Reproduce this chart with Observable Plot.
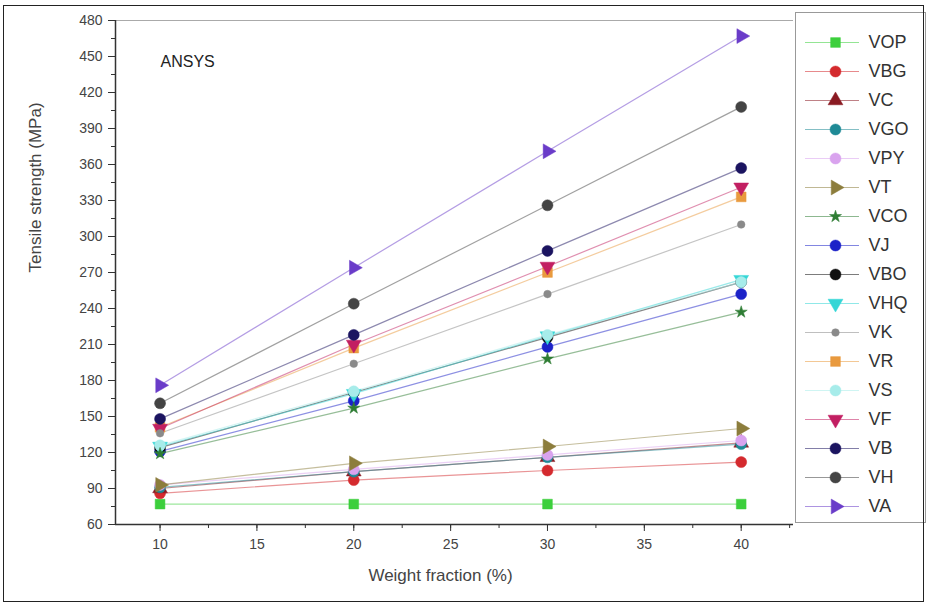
<!DOCTYPE html>
<html>
<head>
<meta charset="utf-8">
<script src="https://cdn.jsdelivr.net/npm/d3@7"></script>
<script src="https://cdn.jsdelivr.net/npm/@observablehq/plot@0.6"></script>
<style>
  html, body { margin: 0; padding: 0; background: #fff; }
  #wrap { position: relative; width: 929px; height: 606px; overflow: hidden; }
  #border { position: absolute; left: 3px; top: 5px; width: 921px; height: 597px; border: 1.5px solid #222; box-sizing: border-box; }
  #chart { position: absolute; left: 0; top: 0; }
  #legend { position: absolute; left: 795px; top: 12px; width: 131px; height: 511px; border: 1px solid #999; box-sizing: border-box; background: #fff; }
</style>
</head>
<body>
<div id="wrap">
  <div id="chart"></div>
  <div id="legend"></div>
  <div id="border"></div>
</div>
<script>
// ---- data ----
const weights = [10, 20, 30, 40];
const seriesNames = ["VOP","VBG","VC","VGO","VPY","VT","VCO","VJ","VBO","VHQ","VK","VR","VS","VF","VB","VH","VA"];
const VOP = [77, 77, 77, 77];
const VBG = [86, 97, 105, 112];
const VC  = [90, 104, 116, 128];
const VGO = [91, 104, 116, 127];
const VPY = [93, 106, 118, 130];
const VT  = [93, 111, 125, 140];
const VCO = [119, 157, 198, 237];
const VJ  = [121, 163, 208, 252];
const VBO = [124, 170, 216, 262];
const VHQ = [125, 169, 217, 264];
const VK  = [136, 194, 252, 310];
const VR  = [141, 207, 270, 333];
const VS  = [126, 171, 218, 262];
const VF  = [140, 210, 275, 341];
const VB  = [148, 218, 288, 357];
const VH  = [161, 244, 326, 408];
const VA  = [176, 274, 371, 467];
const seriesValues = {VOP, VBG, VC, VGO, VPY, VT, VCO, VJ, VBO, VHQ, VK, VR, VS, VF, VB, VH, VA};
const yTicks = [60, 90, 120, 150, 180, 210, 240, 270, 300, 330, 360, 390, 420, 450, 480];
const xTicks = [10, 15, 20, 25, 30, 35, 40];

// ---- styles ----
const colors = ["#3ccf3c","#d42a2e","#8a1a22","#1f8a96","#d9a3ee","#8c7d3c","#2f7d34","#1c22c8","#111111","#35d6d6","#8a8a8a","#e99a3e","#a7ecea","#c21f62","#1b1460","#444444","#6a3cc9"];
const s3 = Math.sqrt(3);
const triDown = { draw(ctx, size) { const y = -Math.sqrt(size / (s3 * 3)); ctx.moveTo(0, -2 * y); ctx.lineTo(-s3 * y, y); ctx.lineTo(s3 * y, y); ctx.closePath(); } };
const triRight = { draw(ctx, size) { const y = -Math.sqrt(size / (s3 * 3)); ctx.moveTo(-2 * y, 0); ctx.lineTo(y, -s3 * y); ctx.lineTo(y, s3 * y); ctx.closePath(); } };
const symbols = ["square","circle","triangle","circle","circle",triRight,"star","circle","circle",triDown,"circle","square","circle",triDown,"circle","circle",triRight];
const smallSet = new Set(["VCO","VK"]);

const rows = [];
for (const name of seriesNames) {
  seriesValues[name].forEach((v, i) => rows.push({series: name, w: weights[i], v}));
}

const xDomain = [7.7, 42.7];
const yMinor = d3.range(60, 481, 15);
const xMinor = d3.range(7.5, 42.6, 2.5).filter(d => d >= xDomain[0] && d <= xDomain[1]);

const chart = Plot.plot({
  width: 929, height: 606,
  marginLeft: 115, marginRight: 136, marginTop: 20, marginBottom: 82,
  style: {fontFamily: "'Liberation Sans', Arial, sans-serif", fontSize: "14px", color: "#444", background: "transparent"},
  x: {domain: xDomain},
  y: {domain: [60, 480]},
  color: {domain: seriesNames, range: colors},
  symbol: {domain: seriesNames, range: symbols},
  marks: [
    Plot.ruleY([480], {stroke: "#aaa", strokeWidth: 1}),
    Plot.axisX(xMinor, {tickSize: 4, tickFormat: () => "", label: null, stroke: "#333"}),
    Plot.axisX(xTicks, {tickSize: 7, tickPadding: 8, label: null, stroke: "#333", fontSize: 14}),
    Plot.axisY(yMinor, {tickSize: 4, tickFormat: () => "", label: null, stroke: "#333"}),
    Plot.axisY(yTicks, {tickSize: 7, tickPadding: 6, label: null, stroke: "#333", fontSize: 14}),
    Plot.ruleY([60], {stroke: "#333", strokeWidth: 1.5}),
    Plot.ruleX([xDomain[0]], {stroke: "#333", strokeWidth: 1.5}),
    Plot.line(rows, {x: "w", y: "v", z: "series", stroke: "series", strokeOpacity: 0.5, strokeWidth: 1.2}),
    Plot.dot(rows.filter(d => !smallSet.has(d.series)), {x: "w", y: "v", symbol: "series", fill: "series", stroke: "series", strokeWidth: 0.5, r: 5.5}),
    Plot.dot(rows.filter(d => smallSet.has(d.series)), {x: "w", y: "v", symbol: "series", fill: "series", stroke: "series", strokeWidth: 0.5, r: 3.8}),
    Plot.text(["ANSYS"], {frameAnchor: "top-left", dx: 45, dy: 35, textAnchor: "start", fontSize: 16, fill: "#222"}),
    Plot.text(["Weight fraction (%)"], {frameAnchor: "bottom", dx: -14, dy: 56, fontSize: 17, fill: "#444"}),
    Plot.text(["Tensile strength (MPa)"], {frameAnchor: "left", dx: -80, rotate: -90, fontSize: 17, fill: "#444"})
  ]
});
document.getElementById("chart").appendChild(chart);

const legend = Plot.plot({
  width: 129, height: 509,
  marginLeft: 0, marginRight: 0, marginTop: 25, marginBottom: 13,
  style: {fontFamily: "'Liberation Sans', Arial, sans-serif", background: "transparent"},
  x: {domain: [0, 129], axis: null},
  y: {type: "point", domain: seriesNames, axis: null, padding: 0},
  color: {domain: seriesNames, range: colors},
  symbol: {domain: seriesNames, range: symbols},
  marks: [
    Plot.ruleY(seriesNames, {y: d => d, x1: 9, x2: 63, stroke: d => d, strokeOpacity: 0.55, strokeWidth: 1.2}),
    Plot.dot(seriesNames.filter(d => !smallSet.has(d)), {x: 39, y: d => d, symbol: d => d, fill: d => d, stroke: d => d, strokeWidth: 0.5, r: 5.5}),
    Plot.dot(seriesNames.filter(d => smallSet.has(d)), {x: 39, y: d => d, symbol: d => d, fill: d => d, stroke: d => d, strokeWidth: 0.5, r: 3.8}),
    Plot.text(seriesNames, {x: 72, y: d => d, text: d => d, textAnchor: "start", fontSize: 18, fill: "#333"})
  ]
});
document.getElementById("legend").appendChild(legend);
</script>
</body>
</html>
